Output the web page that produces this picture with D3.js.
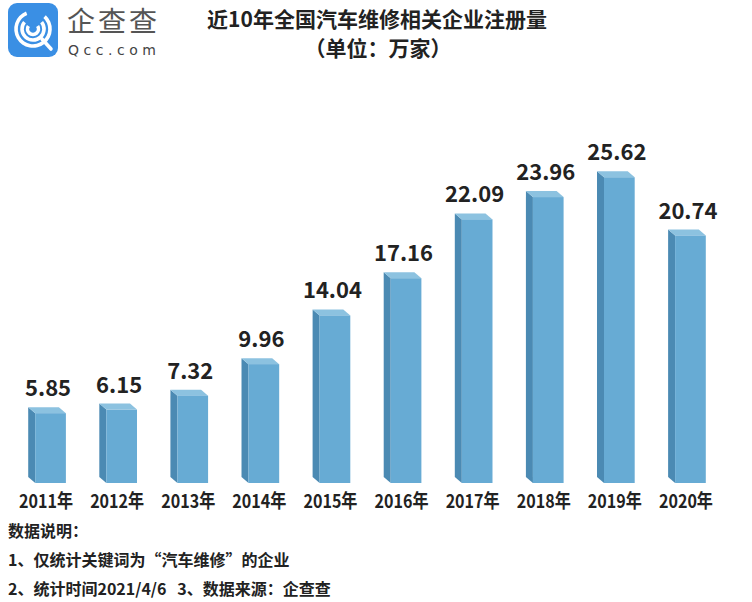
<!DOCTYPE html>
<html>
<head>
<meta charset="UTF-8">
<title>近10年全国汽车维修相关企业注册量</title>
<script src="https://d3js.org/d3.v7.min.js"></script>
<style>
  body { margin: 0; background: #fff; }
  svg { display: block; font-family: "Noto Sans CJK SC", "Noto Sans", sans-serif; }
</style>
</head>
<body>
<script>
  // data (unit: 万家)
  var years = ["2011年", "2012年", "2013年", "2014年", "2015年", "2016年", "2017年", "2018年", "2019年", "2020年"];
  var counts = [5.85, 6.15, 7.32, 9.96, 14.04, 17.16, 22.09, 23.96, 25.62, 20.74];
  var notes = ["1、仅统计关键词为“汽车维修”的企业", "2、统计时间2021/4/6   3、数据来源：企查查"];

  var W = 752, H = 602;
  var svg = d3.select("body").append("svg").attr("width", W).attr("height", H);

  svg.append("rect").attr("width", W).attr("height", H).attr("fill", "#fff");

  // logo
  var logo = svg.append("g");
  logo.append("rect").attr("x", 8).attr("y", 3).attr("width", 50).attr("height", 54)
    .attr("rx", 9).attr("fill", "#3a8fe4");
  var arc = d3.arc();
  var cx = 33, cy = 29;
  [[17, 0.75, 5.9], [11, 0.9, 5.4], [5.5, 1.0, 5.3]].forEach(function(r) {
    logo.append("path")
      .attr("transform", "translate(" + cx + "," + cy + ")")
      .attr("d", arc({innerRadius: r[0] - 1.8, outerRadius: r[0] + 1.8, startAngle: r[1], endAngle: r[2]}))
      .attr("fill", "#fff");
  });
  logo.append("line").attr("x1", cx + 9).attr("y1", cy + 10).attr("x2", cx + 18).attr("y2", cy + 20)
    .attr("stroke", "#fff").attr("stroke-width", 3.6).attr("stroke-linecap", "round");
  logo.append("text").attr("x", 67).attr("y", 32).attr("font-size", 28).attr("fill", "#555")
    .attr("textLength", 90).text("企查查");
  logo.append("text").attr("x", 68).attr("y", 55).attr("font-size", 14).attr("fill", "#444")
    .attr("font-family", "DejaVu Sans, sans-serif").attr("textLength", 88).attr("lengthAdjust", "spacing")
    .text("Qcc.com");

  // title
  svg.append("text").attr("x", 377).attr("y", 27).attr("text-anchor", "middle")
    .attr("font-size", 21).attr("font-weight", "bold").attr("fill", "#222")
    .text("近10年全国汽车维修相关企业注册量");
  svg.append("text").attr("x", 378).attr("y", 56).attr("text-anchor", "middle")
    .attr("font-size", 21).attr("font-weight", "bold").attr("fill", "#222")
    .text("（单位：万家）");

  // scales
  var x = d3.scaleBand().domain(years).range([11.5, 722.5]).paddingInner(0.47).paddingOuter(0.235);
  var y = d3.scaleLinear().domain([0, 30]).range([483, 125]);
  var dx = 7, dy = 6;

  var bars = svg.append("g").selectAll("g").data(counts).join("g");

  // left side face
  bars.append("path")
    .attr("d", function(d, i) {
      var x0 = x(years[i]);
      return "M" + x0 + "," + (y(d) - dy) + "L" + (x0 + dx) + "," + y(d) +
        "L" + (x0 + dx) + "," + y(0) + "L" + x0 + "," + (y(0) - dy) + "Z";
    })
    .attr("fill", "#4b8ab3");
  // top face
  bars.append("path")
    .attr("d", function(d, i) {
      var x0 = x(years[i]), x1 = x0 + x.bandwidth();
      return "M" + x0 + "," + (y(d) - dy) + "L" + (x1 - dx) + "," + (y(d) - dy) +
        "L" + x1 + "," + y(d) + "L" + (x0 + dx) + "," + y(d) + "Z";
    })
    .attr("fill", "#8cc2e0");
  // front face
  bars.append("rect")
    .attr("x", function(d, i) { return x(years[i]) + dx; })
    .attr("y", function(d) { return y(d); })
    .attr("width", x.bandwidth() - dx)
    .attr("height", function(d) { return y(0) - y(d); })
    .attr("fill", "#67abd4");

  // value labels
  bars.append("text")
    .attr("x", function(d, i) { return x(years[i]) + x.bandwidth() / 2 + 1; })
    .attr("y", function(d) { return y(d) - dy - 11; })
    .attr("text-anchor", "middle")
    .attr("font-size", 22).attr("font-weight", "bold").attr("fill", "#222")
    .text(function(d) { return d3.format(".2f")(d); });

  // year labels
  svg.append("g").selectAll("text").data(years).join("text")
    .attr("x", function(d) { return x(d) + x.bandwidth() / 2 - 1; })
    .attr("y", 508)
    .attr("text-anchor", "middle")
    .attr("font-size", 19).attr("font-weight", "bold").attr("fill", "#222")
    .attr("textLength", 54).attr("lengthAdjust", "spacingAndGlyphs")
    .text(function(d) { return d; });

  // notes
  svg.append("text").attr("x", 8).attr("y", 537).attr("font-size", 16).attr("font-weight", "bold")
    .attr("fill", "#222").text("数据说明：");
  svg.append("g").selectAll("text").data(notes).join("text")
    .attr("x", 8)
    .attr("y", function(d, i) { return 566 + i * 29; })
    .attr("font-size", 16).attr("font-weight", "bold").attr("fill", "#222")
    .attr("xml:space", "preserve")
    .text(function(d) { return d; });
</script>
</body>
</html>
